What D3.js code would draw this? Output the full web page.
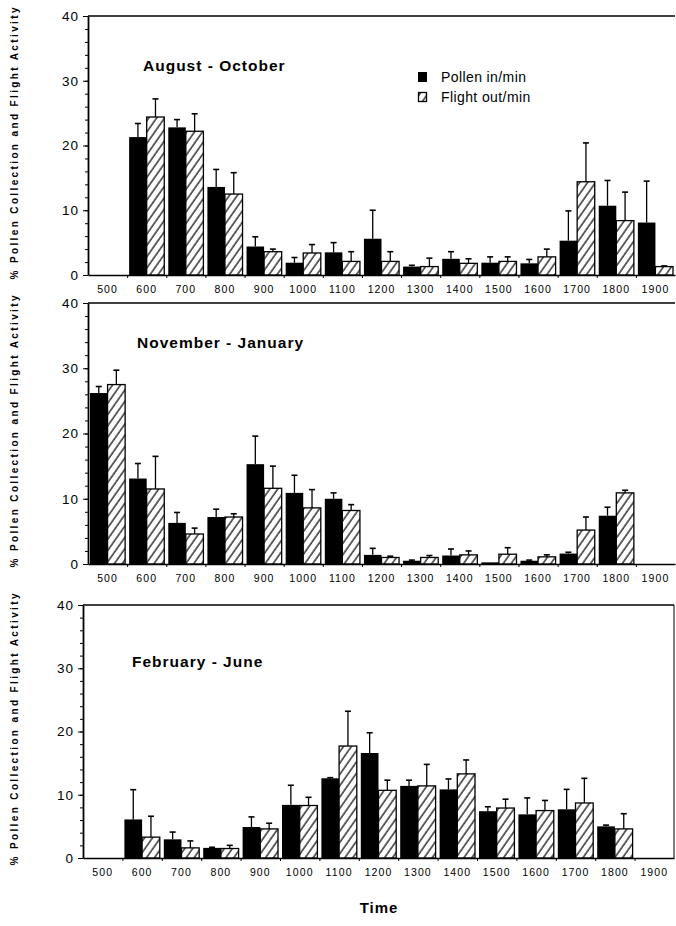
<!DOCTYPE html>
<meta charset="utf-8">
<script src="https://d3js.org/d3.v7.min.js"></script>
<style>
  body { margin: 0; background: #fff; }
  text { font-family: "Liberation Sans", Arial, Helvetica, sans-serif; fill: #000; }
</style>
<div id="chart"></div>
<script>

// hours of day (x categories)
var hours = [500, 600, 700, 800, 900, 1000, 1100, 1200, 1300, 1400, 1500, 1600, 1700, 1800, 1900];

// August - October
var augPollen    = [null, 21.3, 22.8, 13.6, 4.4, 1.9, 3.5, 5.6, 1.3, 2.5, 1.9, 1.8, 5.3, 10.7, 8.1];
var augPollenErr = [null, 2.1, 1.2, 2.7, 1.5, 0.8, 1.5, 4.4, 0.2, 1.1, 0.9, 0.6, 4.6, 3.9, 6.4];
var augFlight    = [null, 24.4, 22.2, 12.5, 3.6, 3.4, 2.1, 2.1, 1.3, 1.8, 2.1, 2.8, 14.4, 8.4, 1.3];
var augFlightErr = [null, 2.8, 2.7, 3.3, 0.4, 1.3, 1.5, 1.5, 1.3, 0.7, 0.7, 1.2, 6.0, 4.4, 0.1];

// November - January
var novPollen    = [26.2, 13.1, 6.3, 7.2, 15.3, 10.9, 10.0, 1.4, 0.5, 1.3, 0.25, 0.5, 1.6, 7.4, 0];
var novPollenErr = [1.0, 2.3, 1.6, 1.2, 4.3, 2.7, 0.9, 1.0, 0.1, 1.0, 0, 0.1, 0.2, 1.3, 0];
var novFlight    = [27.5, 11.5, 4.6, 7.2, 11.6, 8.6, 8.2, 1.0, 1.0, 1.4, 1.5, 1.1, 5.2, 10.9, 0];
var novFlightErr = [2.2, 5.0, 0.9, 0.5, 3.4, 2.8, 0.9, 0.2, 0.3, 0.6, 1.0, 0.3, 2.0, 0.4, 0];

// February - June
var febPollen    = [null, 6.1, 2.95, 1.6, 4.9, 8.4, 12.6, 16.6, 11.4, 10.85, 7.4, 6.9, 7.7, 5.0, null];
var febPollenErr = [null, 4.7, 1.15, 0.1, 1.6, 3.1, 0.1, 3.2, 0.9, 1.65, 0.7, 2.6, 3.15, 0.2, null];
var febFlight    = [null, 3.3, 1.6, 1.5, 4.6, 8.3, 17.7, 10.7, 11.4, 13.3, 7.9, 7.5, 8.7, 4.6, null];
var febFlightErr = [null, 3.3, 1.1, 0.5, 0.9, 1.3, 5.5, 1.6, 3.4, 2.2, 1.4, 1.6, 3.9, 2.4, null];

var yTicks = [0, 10, 20, 30, 40];
var seriesNames = ["Pollen in/min", "Flight out/min"];
var yLabel = "% Pollen Collection and Flight Activity";

var panels = [
  {title: "August - October",  pollen: augPollen, pErr: augPollenErr, flight: augFlight, fErr: augFlightErr,
   top: 16, bottom: 275, left: 88, right: 675, titleX: 143, titleY: 71, legend: true, box: false},
  {title: "November - January", pollen: novPollen, pErr: novPollenErr, flight: novFlight, fErr: novFlightErr,
   top: 303, bottom: 564, left: 88, right: 675, titleX: 137, titleY: 348, legend: false, box: false},
  {title: "February - June",   pollen: febPollen, pErr: febPollenErr, flight: febFlight, fErr: febFlightErr,
   top: 605, bottom: 858, left: 83, right: 674, titleX: 132, titleY: 667, legend: false, box: true}
];

var svg = d3.select("#chart").append("svg")
  .attr("width", 676)
  .attr("height", 926);

// hatch for flight bars
svg.append("defs").append("pattern")
  .attr("id", "hatch")
  .attr("patternUnits", "userSpaceOnUse")
  .attr("width", 6.5).attr("height", 10)
  .attr("patternTransform", "rotate(35)")
  .append("line")
    .attr("x1", 1).attr("y1", 0).attr("x2", 1).attr("y2", 10)
    .attr("stroke", "#000").attr("stroke-width", 1.2);

panels.forEach(function(p) {
  var g = svg.append("g");

  var x = d3.scaleBand().domain(hours).range([p.left, p.right]).padding(0);
  var y = d3.scaleLinear().domain([0, 40]).range([p.bottom, p.top]);
  var bw = x.bandwidth();
  var barW = (bw - 4) / 2;

  // frame: top line (and right side for the last panel)
  g.append("line")
    .attr("x1", p.left).attr("x2", p.right).attr("y1", p.top).attr("y2", p.top)
    .attr("stroke", "#000").attr("stroke-width", 1.3);
  if (p.box) {
    g.append("line")
      .attr("x1", p.right).attr("x2", p.right).attr("y1", p.top).attr("y2", p.bottom)
      .attr("stroke", "#000").attr("stroke-width", 1);
  }

  // minor y ticks
  g.append("g")
    .attr("transform", "translate(" + p.left + ",0)")
    .call(d3.axisLeft(y).tickValues(d3.range(0, 41, 2)).tickSize(3).tickFormat(""))
    .call(function(a) { a.select(".domain").remove(); });

  // y axis
  var ya = g.append("g")
    .attr("transform", "translate(" + p.left + ",0)")
    .call(d3.axisLeft(y).tickValues(yTicks).tickSize(5).tickSizeOuter(0).tickPadding(4));
  ya.select(".domain").attr("stroke-width", 1.8);
  ya.selectAll("text").style("font-size", "13.5px").style("letter-spacing", "1px");

  // x axis: labels centred on bands, ticks at band edges
  var xa = g.append("g")
    .attr("transform", "translate(0," + p.bottom + ")")
    .call(d3.axisBottom(x).tickSize(0).tickPadding(11));
  xa.select(".domain").attr("stroke-width", 1.5);
  xa.selectAll("text").style("font-size", "10.5px").style("letter-spacing", "1.1px");

  var xi = d3.scaleLinear().domain([0, hours.length]).range([p.left, p.right]);
  g.append("g")
    .attr("transform", "translate(0," + p.bottom + ")")
    .call(d3.axisBottom(xi).tickValues(d3.range(1, hours.length)).tickSize(3).tickFormat(""))
    .call(function(a) { a.select(".domain").remove(); });

  var rows = hours.map(function(h, i) {
    return {h: h, pv: p.pollen[i], pe: p.pErr[i], fv: p.flight[i], fe: p.fErr[i]};
  });

  // error bars (upper whisker only)
  function whisker(v, e, cx) {
    if (v == null || !(e > 0)) return;
    g.append("line")
      .attr("x1", cx).attr("x2", cx).attr("y1", y(v)).attr("y2", y(v + e))
      .attr("stroke", "#000").attr("stroke-width", 1.3);
    g.append("line")
      .attr("x1", cx - 3).attr("x2", cx + 3).attr("y1", y(v + e)).attr("y2", y(v + e))
      .attr("stroke", "#000").attr("stroke-width", 1.6);
  }
  rows.forEach(function(d) {
    whisker(d.pv, d.pe, x(d.h) + 2 + barW / 2);
    whisker(d.fv, d.fe, x(d.h) + 2 + barW * 1.5);
  });

  // pollen bars (solid)
  g.selectAll(".pollen")
    .data(rows.filter(function(d) { return d.pv != null && d.pv > 0; }))
    .enter().append("rect")
      .attr("x", function(d) { return x(d.h) + 2; })
      .attr("y", function(d) { return y(d.pv); })
      .attr("width", barW)
      .attr("height", function(d) { return y(0) - y(d.pv); })
      .attr("fill", "#000");

  // flight bars (hatched)
  g.selectAll(".flight")
    .data(rows.filter(function(d) { return d.fv != null && d.fv > 0; }))
    .enter().append("rect")
      .attr("x", function(d) { return x(d.h) + 2 + barW; })
      .attr("y", function(d) { return y(d.fv); })
      .attr("width", barW)
      .attr("height", function(d) { return y(0) - y(d.fv); })
      .attr("fill", "url(#hatch)")
      .attr("stroke", "#000").attr("stroke-width", 1.3);

  // panel title
  g.append("text")
    .attr("x", p.titleX).attr("y", p.titleY)
    .style("font-size", "15.5px").style("font-weight", "bold").style("letter-spacing", "1px")
    .text(p.title);

  // y label
  g.append("text")
    .attr("transform", "translate(18," + ((p.top + p.bottom) / 2 - 2) + ") rotate(-90)")
    .attr("text-anchor", "middle")
    .attr("textLength", 272).attr("lengthAdjust", "spacing")
    .style("font-size", "10px").style("font-weight", "bold")
    .text(yLabel);

  if (p.legend) {
    var lg = g.append("g").attr("transform", "translate(418,72)");
    lg.append("rect").attr("x", 0).attr("y", 0).attr("width", 9).attr("height", 10).attr("fill", "#000");
    lg.append("rect").attr("x", 0.5).attr("y", 20.5).attr("width", 8).attr("height", 9)
      .attr("fill", "url(#hatch)").attr("stroke", "#000").attr("stroke-width", 1.3);
    lg.selectAll(".lt").data(seriesNames).enter().append("text")
      .attr("x", 23).attr("y", function(d, i) { return 10 + i * 20; })
      .style("font-size", "14px").style("letter-spacing", "0.4px")
      .text(function(d) { return d; });
  }
});

// bottom axis title
svg.append("text")
  .attr("x", 379).attr("y", 913)
  .attr("text-anchor", "middle")
  .style("font-size", "15px").style("font-weight", "bold").style("letter-spacing", "1px")
  .text("Time");

</script>
